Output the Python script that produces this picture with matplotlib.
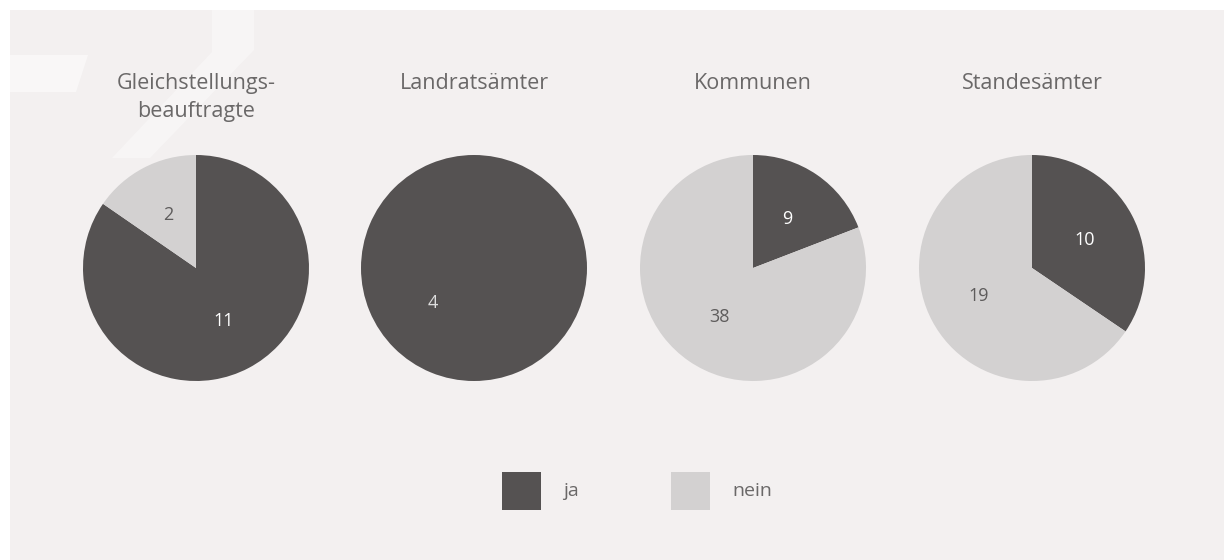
import matplotlib.pyplot as plt
from matplotlib.patches import Rectangle, Polygon
import numpy as np

titles = ['Gleichstellungs-\nbeauftragte', 'Landratsämter', 'Kommunen', 'Standesämter']
ja = [11, 4, 9, 10]
nein = [2, 0, 38, 19]
legend_labels = ['ja', 'nein']

dark = '#555252'
light = '#d3d1d1'
bg = '#f3f0f0'
textgray = '#6a6868'

plt.rcParams['font.family'] = ['Open Sans', 'DejaVu Sans']

W, H = 1224, 560
fig = plt.figure(figsize=(W / 100, H / 100), dpi=100, facecolor='white')

# background panel (white strip on top and left)
fig.patches.append(Rectangle((10 / W, 0), 1, 1 - 10 / H, transform=fig.transFigure,
                             facecolor=bg, edgecolor='none', zorder=-5))
# faint logo watermark top left
fig.patches.append(Polygon([(10 / W, 1 - 55 / H), (88 / W, 1 - 55 / H), (76 / W, 1 - 92 / H), (10 / W, 1 - 92 / H)],
                           transform=fig.transFigure, facecolor='white', alpha=0.5, edgecolor='none', zorder=-4))
fig.patches.append(Polygon([(212 / W, 1 - 10 / H), (254 / W, 1 - 10 / H), (254 / W, 1 - 50 / H), (150 / W, 1 - 158 / H),
                            (112 / W, 1 - 158 / H), (212 / W, 1 - 52 / H)],
                           transform=fig.transFigure, facecolor='white', alpha=0.35, edgecolor='none', zorder=-4))

centers = [196, 474, 753, 1032]
cy = 268
r = 113

for i in range(4):
    cx = centers[i]
    ax = fig.add_axes([(cx - r) / W, (H - cy - r) / H, 2 * r / W, 2 * r / H])
    vals = [ja[i], nein[i]]
    cols = [dark, light]
    wedges, _ = ax.pie(vals, colors=cols, startangle=90, counterclock=False,
                       wedgeprops=dict(linewidth=0))
    ax.set_xlim(-1, 1)
    ax.set_ylim(-1, 1)
    ax.set_aspect('equal')
    ax.axis('off')
    total = sum(vals)
    start = 90.0
    for v, c in zip(vals, cols):
        if v == 0:
            continue
        span = v / total * 360
        mid = start - span / 2
        d = 0.53
        if span >= 359.9:
            mid = 220
            d = 0.48
        tc = 'white' if c == dark else '#5e5c5c'
        if c == dark and span >= 359.9:
            tc = '#dddddd'
        ax.text(d * np.cos(np.radians(mid)), d * np.sin(np.radians(mid)), str(v),
                ha='center', va='center', fontsize=13, color=tc)
        start -= span
    fig.text(cx / W, 1 - 73 / H, titles[i], ha='center', va='top', fontsize=15.5,
             color=textgray, linespacing=1.45)

# legend
for k, (lab, c) in enumerate(zip(legend_labels, [dark, light])):
    x0 = [502, 671][k]
    fig.patches.append(Rectangle((x0 / W, 1 - 510 / H), 39 / W, 38 / H, transform=fig.transFigure,
                                 facecolor=c, edgecolor='none'))
    fig.text((x0 + 61) / W, 1 - 491 / H, lab, ha='left', va='center', fontsize=14, color=textgray)

fig.savefig('out.png', dpi=100, facecolor='white')
